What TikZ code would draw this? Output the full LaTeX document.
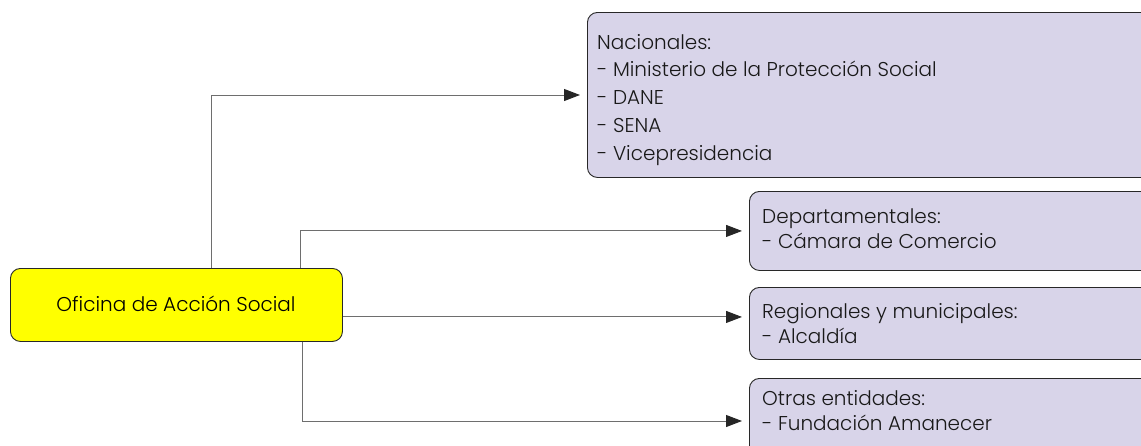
\documentclass[tikz,border=0pt]{standalone}
\usepackage{fontspec}
\setmainfont{Poppins Light}
\usetikzlibrary{arrows.meta,calc}
\definecolor{lav}{RGB}{216,212,233}
\definecolor{yel}{RGB}{255,255,0}
\definecolor{edge}{RGB}{40,40,40}
\definecolor{linec}{RGB}{110,110,110}
\tikzset{
  box/.style={draw=edge, line width=0.9pt, rounded corners=10pt, anchor=north west, inner sep=0pt},
  lavbox/.style={box, fill=lav},
  txt/.style={anchor=base west, inner sep=0pt, align=left, text=black!90},
  bigtxt/.style={txt, font=\fontsize{20}{27.7}\selectfont},
  smalltxt/.style={txt, font=\fontsize{20}{25}\selectfont},
  conn/.style={draw=linec, line width=1pt, -{Triangle[length=16pt,width=12pt,color=black!85]}, shorten >=7pt}
}
\begin{document}
\begin{tikzpicture}[x=1pt,y=-1pt]
\useasboundingbox (0,0) rectangle (1141,445);
\clip (0,0) rectangle (1141,445);
% boxes
\node[lavbox, minimum width=640pt, minimum height=165pt] (nac) at (587,12) {};
\node[lavbox, minimum width=480pt, minimum height=79pt] (dep) at (749,191) {};
\node[lavbox, minimum width=480pt, minimum height=72pt] (reg) at (749,287) {};
\node[lavbox, minimum width=480pt, minimum height=90pt] (otr) at (749,378) {};
\node[box, fill=yel, minimum width=332pt, minimum height=73pt] (ofi) at (10,268) {};
% texts (anchored at the baseline of the last line)
\node[bigtxt] (tnac) at (597,160) {Nacionales:\\- Ministerio de la Protección Social\\- DANE\\- SENA\\- Vicepresidencia};
\node[smalltxt] (tdep) at (762,248) {Departamentales:\\- Cámara de Comercio};
\node[smalltxt] (treg) at (762,343) {Regionales y municipales:\\- Alcaldía};
\node[smalltxt] (totr) at (762,430) {Otras entidades:\\- Fundación Amanecer};
\node[font=\fontsize{20}{24}\selectfont, inner sep=0pt, anchor=base] (tofi) at (176,311) {Oficina de Acción Social};
% connectors
\coordinate (a0) at ([xshift=201pt]ofi.north west);
\coordinate (a1) at ([yshift=-83pt]nac.north west);
\draw[conn] (a0) |- (a1);
\coordinate (b0) at ([xshift=290pt]ofi.north west);
\draw[conn] (b0) |- (dep.west);
\coordinate (c0) at ([yshift=-12pt]ofi.east);
\draw[conn] (c0) -- (c0 -| reg.west);
\coordinate (d0) at ([xshift=292pt]ofi.south west);
\coordinate (d1) at ([yshift=-43pt]otr.north west);
\draw[conn] (d0) |- (d1);
\end{tikzpicture}
\end{document}
